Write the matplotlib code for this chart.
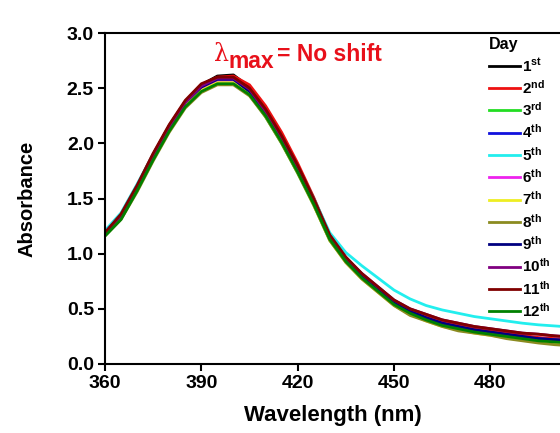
import numpy as np
import matplotlib
matplotlib.use("Agg")
import matplotlib.pyplot as plt

plt.rcParams['font.family'] = ['Liberation Sans', 'DejaVu Sans']
plt.rcParams['font.weight'] = 'bold'
plt.rcParams['mathtext.fontset'] = 'custom'
plt.rcParams['mathtext.rm'] = 'Liberation Sans:bold'
plt.rcParams['mathtext.bf'] = 'Liberation Sans:bold'
plt.rcParams['mathtext.it'] = 'Liberation Sans:bold'

# wavelength grid (nm)
wavelength = [360, 365, 370, 375, 380, 385, 390, 395, 400, 405, 410, 415, 420, 425, 430,
              435, 440, 445, 450, 455, 460, 465, 470, 475, 480, 485, 490, 495, 500, 505]

day1 = [1.20, 1.36, 1.62, 1.90, 2.16, 2.38, 2.53, 2.61, 2.62, 2.51, 2.31, 2.06, 1.78, 1.48, 1.15,
        0.95, 0.80, 0.68, 0.56, 0.48, 0.42, 0.38, 0.34, 0.31, 0.29, 0.27, 0.25, 0.23, 0.22, 0.21]
day2 = [1.18, 1.34, 1.61, 1.90, 2.16, 2.38, 2.53, 2.60, 2.61, 2.53, 2.34, 2.10, 1.82, 1.51, 1.17,
        0.96, 0.81, 0.69, 0.57, 0.49, 0.43, 0.38, 0.35, 0.32, 0.30, 0.28, 0.26, 0.24, 0.23, 0.22]
day3 = [1.17, 1.33, 1.59, 1.87, 2.13, 2.35, 2.49, 2.56, 2.55, 2.44, 2.24, 2.00, 1.73, 1.44, 1.12,
        0.93, 0.78, 0.66, 0.54, 0.46, 0.40, 0.35, 0.32, 0.29, 0.27, 0.25, 0.23, 0.21, 0.20, 0.19]
day4 = [1.19, 1.35, 1.61, 1.89, 2.15, 2.37, 2.51, 2.58, 2.57, 2.46, 2.26, 2.02, 1.75, 1.46, 1.13,
        0.94, 0.79, 0.67, 0.55, 0.47, 0.41, 0.37, 0.33, 0.30, 0.28, 0.26, 0.24, 0.23, 0.22, 0.21]
day5 = [1.21, 1.37, 1.63, 1.90, 2.15, 2.37, 2.51, 2.57, 2.56, 2.46, 2.27, 2.04, 1.78, 1.50, 1.19,
        1.01, 0.89, 0.78, 0.67, 0.59, 0.53, 0.49, 0.46, 0.43, 0.41, 0.39, 0.37, 0.355, 0.345, 0.335]
day6 = [1.18, 1.34, 1.60, 1.88, 2.14, 2.36, 2.50, 2.57, 2.57, 2.47, 2.27, 2.03, 1.76, 1.46, 1.13,
        0.94, 0.79, 0.67, 0.55, 0.47, 0.41, 0.36, 0.33, 0.30, 0.28, 0.26, 0.24, 0.22, 0.21, 0.20]
day7 = [1.17, 1.32, 1.58, 1.86, 2.12, 2.34, 2.48, 2.55, 2.55, 2.45, 2.25, 2.01, 1.74, 1.44, 1.12,
        0.92, 0.77, 0.65, 0.53, 0.45, 0.39, 0.34, 0.31, 0.28, 0.26, 0.24, 0.22, 0.20, 0.19, 0.18]
day8 = [1.16, 1.31, 1.56, 1.84, 2.10, 2.32, 2.46, 2.53, 2.53, 2.43, 2.24, 2.00, 1.73, 1.44, 1.12,
        0.92, 0.77, 0.65, 0.53, 0.44, 0.39, 0.34, 0.30, 0.28, 0.26, 0.23, 0.21, 0.19, 0.175, 0.165]
day9 = [1.19, 1.35, 1.61, 1.89, 2.15, 2.37, 2.51, 2.58, 2.58, 2.47, 2.27, 2.03, 1.76, 1.46, 1.14,
        0.94, 0.79, 0.67, 0.56, 0.48, 0.42, 0.37, 0.34, 0.31, 0.29, 0.27, 0.25, 0.23, 0.22, 0.21]
day10 = [1.19, 1.35, 1.61, 1.89, 2.15, 2.37, 2.52, 2.59, 2.59, 2.49, 2.29, 2.05, 1.78, 1.48, 1.16,
         0.96, 0.82, 0.70, 0.58, 0.50, 0.45, 0.40, 0.37, 0.34, 0.32, 0.30, 0.28, 0.27, 0.255, 0.245]
day11 = [1.19, 1.36, 1.62, 1.91, 2.17, 2.39, 2.54, 2.60, 2.60, 2.50, 2.31, 2.07, 1.80, 1.50, 1.17,
         0.97, 0.82, 0.70, 0.58, 0.50, 0.45, 0.40, 0.37, 0.34, 0.32, 0.30, 0.28, 0.27, 0.255, 0.245]
day12 = [1.16, 1.31, 1.57, 1.85, 2.11, 2.33, 2.47, 2.54, 2.54, 2.44, 2.25, 2.01, 1.74, 1.45, 1.13,
         0.93, 0.78, 0.66, 0.54, 0.46, 0.40, 0.35, 0.32, 0.29, 0.27, 0.25, 0.23, 0.21, 0.20, 0.19]

series = [day1, day2, day3, day4, day5, day6, day7, day8, day9, day10, day11, day12]
labels = ['$1^{st}$', '$2^{nd}$', '$3^{rd}$', '$4^{th}$', '$5^{th}$', '$6^{th}$',
          '$7^{th}$', '$8^{th}$', '$9^{th}$', '$10^{th}$', '$11^{th}$', '$12^{th}$']
colors = ['#000000', '#ee1111', '#22dd22', '#1111dd', '#22eeee', '#ee22ee',
          '#eeee22', '#8b8b20', '#000080', '#800080', '#800000', '#008000']

fig = plt.figure(figsize=(5.6, 4.33), dpi=100)
ax = fig.add_axes([105 / 560, 69 / 433, 456 / 560, 331 / 433])

for y, lab, c in zip(series, labels, colors):
    ax.plot(wavelength, y, color=c, linewidth=2, label=lab)

ax.set_xlim(360, 502)
ax.set_ylim(0, 3.0)
ax.set_xticks([360, 390, 420, 450, 480])
ax.set_yticks(np.arange(0, 3.01, 0.5))
ax.yaxis.set_major_formatter(matplotlib.ticker.FormatStrFormatter('%.1f'))
ax.tick_params(direction='out', length=5, width=1.5, labelsize=14, pad=3)
for s in ax.spines.values():
    s.set_linewidth(1.5)
ax.spines['right'].set_visible(False)

ax.set_xlabel('Wavelength (nm)', fontsize=16, fontweight='bold', labelpad=9)
ax.set_ylabel('Absorbance', fontsize=14.5, fontweight='bold')
ax.yaxis.set_label_coords(-0.15, 0.5)

leg = ax.legend(loc='upper left', bbox_to_anchor=(489 / 560, 1 - 37 / 433),
                bbox_transform=fig.transFigure, frameon=False, fontsize=11,
                title='Day', title_fontproperties={'weight': 'bold', 'size': 11.5},
                alignment='left', handlelength=2.0, handletextpad=0.15,
                labelspacing=0.29, borderpad=0, borderaxespad=0)

red = '#e8101a'
fig.text(214 / 560, 1 - 61 / 433, 'λ', color=red, fontsize=17, family='DejaVu Serif',
         fontweight='normal', va='baseline')
fig.text(228 / 560, 1 - 68 / 433, 'max', color=red, fontsize=16.5, fontweight='bold', va='baseline')
fig.text(277 / 560, 1 - 61 / 433, '= No shift', color=red, fontsize=16.5, fontweight='bold',
         va='baseline')

fig.savefig('out.png', dpi=100)
